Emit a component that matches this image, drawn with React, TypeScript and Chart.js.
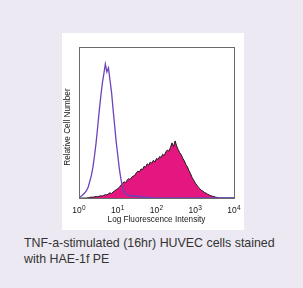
import React, { useEffect, useRef } from 'react';
import { Chart, registerables } from 'chart.js';

Chart.register(...registerables);

// Log-scale channel position (decades, 10^0 .. 10^4)
const logIntensity = [
  0.00, 0.04, 0.08, 0.12, 0.16, 0.20, 0.24, 0.28, 0.32, 0.36,
  0.40, 0.44, 0.48, 0.52, 0.56, 0.60, 0.64, 0.68, 0.72, 0.76,
  0.80, 0.84, 0.88, 0.92, 0.96, 1.00, 1.04, 1.08, 1.12, 1.16,
  1.20, 1.24, 1.28, 1.32, 1.36, 1.40, 1.44, 1.48, 1.52, 1.56,
  1.60, 1.64, 1.68, 1.72, 1.76, 1.80, 1.84, 1.88, 1.92, 1.96,
  2.00, 2.04, 2.08, 2.12, 2.16, 2.20, 2.24, 2.28, 2.32, 2.36,
  2.40, 2.44, 2.48, 2.52, 2.56, 2.60, 2.64, 2.68, 2.72, 2.76,
  2.80, 2.84, 2.88, 2.92, 2.96, 3.00, 3.04, 3.08, 3.12, 3.16,
  3.20, 3.24, 3.28, 3.32, 3.36, 3.40, 3.44, 3.48, 3.52, 3.56,
  3.60, 3.64, 3.68, 3.72, 3.76, 3.80, 3.84, 3.88, 3.92, 3.96,
  4.00,
];

// Isotype control (purple outline)
const isotypeControl = [
  0.004, 0.010, 0.016, 0.026, 0.038, 0.052, 0.075, 0.112, 0.150, 0.205,
  0.280, 0.363, 0.465, 0.572, 0.668, 0.755, 0.820, 0.887, 0.835, 0.862,
  0.780, 0.700, 0.585, 0.480, 0.372, 0.285, 0.195, 0.128, 0.075, 0.045,
  0.030, 0.020, 0.018, 0.012, 0.020, 0.010, 0.016, 0.008, 0.014, 0.006,
  0.010, 0.004, 0.008, 0.003, 0.005, 0.002, 0, 0, 0, 0,
  0, 0, 0, 0, 0, 0, 0, 0, 0, 0,
  0, 0, 0, 0, 0, 0, 0, 0, 0, 0,
  0, 0, 0, 0, 0, 0, 0, 0, 0, 0,
  0, 0, 0, 0, 0, 0, 0, 0, 0, 0,
  0, 0, 0, 0, 0, 0, 0, 0, 0, 0,
  0,
];

// HAE-1f PE stained cells (filled magenta)
const hae1fPE = [
  0, 0, 0, 0, 0, 0, 0.002, 0.004, 0.006, 0.005,
  0.008, 0.010, 0.008, 0.012, 0.015, 0.013, 0.018, 0.022, 0.020, 0.028,
  0.034, 0.030, 0.040, 0.048, 0.055, 0.062, 0.070, 0.085, 0.095, 0.108,
  0.100, 0.118, 0.128, 0.122, 0.138, 0.145, 0.150, 0.168, 0.178, 0.172,
  0.192, 0.188, 0.210, 0.204, 0.226, 0.218, 0.238, 0.230, 0.250, 0.238,
  0.262, 0.255, 0.275, 0.268, 0.290, 0.280, 0.305, 0.318, 0.310, 0.335,
  0.365, 0.340, 0.378, 0.345, 0.320, 0.300, 0.285, 0.262, 0.245, 0.220,
  0.205, 0.180, 0.160, 0.135, 0.118, 0.100, 0.085, 0.072, 0.062, 0.050,
  0.045, 0.036, 0.032, 0.025, 0.020, 0.016, 0.012, 0.010, 0.006, 0.004,
  0.002, 0, 0, 0, 0, 0, 0, 0, 0, 0,
  0,
];

const decadeTicks = [0, 1, 2, 3, 4];
const decadeBase = '10';
const decadeExponents = ['0', '1', '2', '3', '4'];
const xTitle = 'Log Fluorescence Intensity';
const yTitle = 'Relative Cell Number';
const captionLines = ['TNF-a-stimulated (16hr) HUVEC cells stained', 'with HAE-1f PE'];

const FONT = "'Liberation Sans', Arial, sans-serif";
const TEXT = '#161616';

export default function App() {
  const ref = useRef<HTMLCanvasElement>(null);

  useEffect(() => {
    if (!ref.current) return;

    const framePlugin = {
      id: 'frameBox',
      afterDatasetsDraw(chart: any) {
        const { ctx, chartArea: a } = chart;
        ctx.save();
        ctx.strokeStyle = '#6a6a6a';
        ctx.lineWidth = 1;
        ctx.strokeRect(a.left + 0.5, a.top + 0.5, a.right - a.left, a.bottom - a.top);
        ctx.restore();
      },
    };

    // Draw "10^n" decade labels with a real superscript at the x scale's ticks
    const decadeLabelPlugin = {
      id: 'decadeLabels',
      afterDraw(chart: any) {
        const { ctx } = chart;
        const xs = chart.scales.x;
        const top = xs.top;
        ctx.save();
        ctx.fillStyle = TEXT;
        ctx.textAlign = 'left';
        ctx.textBaseline = 'alphabetic';
        decadeTicks.forEach((v, i) => {
          const px = xs.getPixelForValue(v);
          ctx.font = `8.5px ${FONT}`;
          const w1 = ctx.measureText(decadeBase).width;
          ctx.font = `6.5px ${FONT}`;
          const w2 = ctx.measureText(decadeExponents[i]).width;
          const x0 = px - (w1 + w2 + 0.4) / 2;
          ctx.font = `8.5px ${FONT}`;
          ctx.fillText(decadeBase, x0, top + 15.3);
          ctx.font = `6.5px ${FONT}`;
          ctx.fillText(decadeExponents[i], x0 + w1 + 0.4, top + 12);
        });
        ctx.restore();
      },
    };

    const chart = new Chart(ref.current, {
      type: 'line',
      data: {
        labels: logIntensity,
        datasets: [
          {
            label: 'Isotype control',
            data: isotypeControl,
            borderColor: '#6b44bd',
            borderWidth: 1.3,
            pointRadius: 0,
            fill: false,
            tension: 0,
          },
          {
            label: 'HAE-1f PE',
            data: hae1fPE,
            borderColor: '#1c1c1c',
            borderWidth: 1,
            backgroundColor: '#e4167f',
            pointRadius: 0,
            fill: 'origin',
            tension: 0,
          },
        ],
      },
      options: {
        animation: false,
        responsive: false,
        devicePixelRatio: 1,
        layout: { padding: { left: 0, top: 14, right: 10, bottom: 0 } },
        plugins: { legend: { display: false }, tooltip: { enabled: false } },
        scales: {
          x: {
            type: 'linear',
            min: 0,
            max: 4,
            grid: { display: false, drawTicks: false },
            border: { display: false },
            ticks: { display: false, stepSize: 1 },
            title: {
              display: true,
              text: xTitle,
              color: TEXT,
              font: { family: FONT, size: 8.2 },
              padding: { top: 0, bottom: 5.2 },
            },
            afterFit: (s: any) => {
              s.height = 32;
            },
          },
          y: {
            min: 0,
            max: 1,
            grid: { display: false, drawTicks: false },
            border: { display: false },
            ticks: { display: false },
            title: {
              display: true,
              text: yTitle + '    ',
              color: TEXT,
              font: { family: FONT, size: 8.2 },
              padding: { top: 0.5, bottom: 0 },
            },
            afterFit: (s: any) => {
              s.width = 17;
            },
          },
        },
      },
      plugins: [framePlugin, decadeLabelPlugin],
    } as any);

    return () => chart.destroy();
  }, []);

  return (
    <div
      style={{
        position: 'absolute',
        left: 0,
        top: 0,
        width: 303,
        height: 288,
        overflow: 'hidden',
        background: '#ece9f2',
        fontFamily: FONT,
      }}
    >
      <div style={{ position: 'absolute', left: 62, top: 33, width: 182, height: 197, background: '#ffffff' }}>
        <canvas ref={ref} width={182} height={197} style={{ display: 'block', width: 182, height: 197 }} />
      </div>
      <div
        style={{
          position: 'absolute',
          left: 24,
          top: 235,
          fontSize: 12.4,
          lineHeight: '16px',
          color: '#333333',
          whiteSpace: 'nowrap',
        }}
      >
        {captionLines[0]}
        <br />
        {captionLines[1]}
      </div>
    </div>
  );
}
